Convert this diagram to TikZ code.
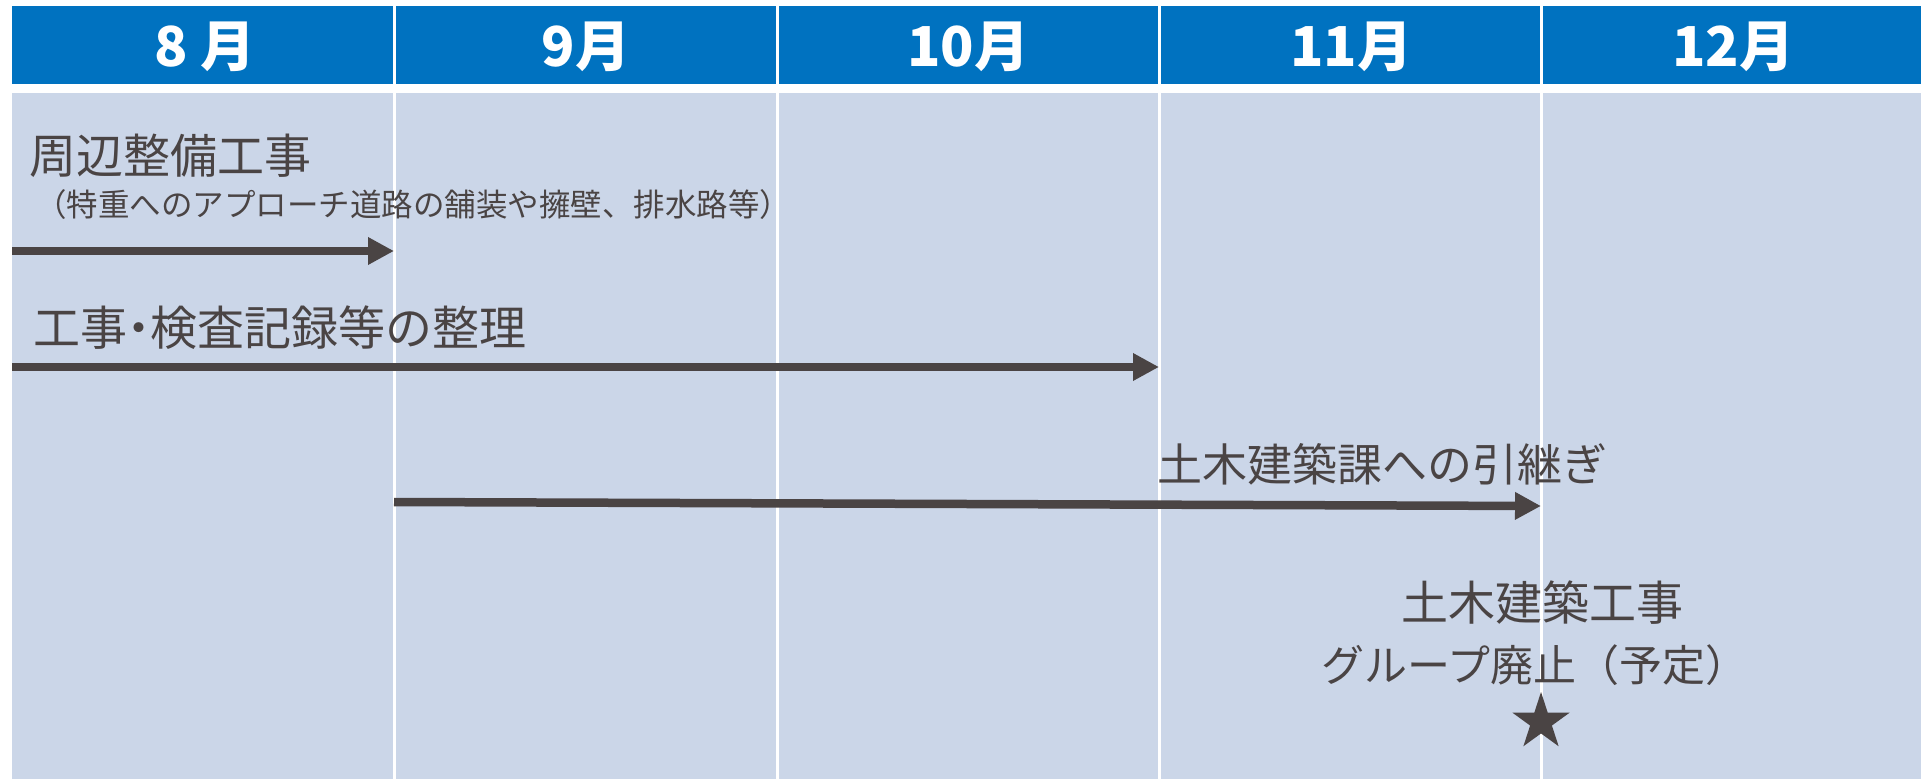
\documentclass[tikz,border=0pt]{standalone}
\usepackage{fontspec}
\newfontfamily\jp{Noto Sans CJK JP}
\usetikzlibrary{arrows.meta,shapes.geometric}
\definecolor{hdr}{RGB}{0,114,192}
\definecolor{cell}{RGB}{203,214,232}
\definecolor{inkc}{RGB}{74,68,68}
\begin{document}
\begin{tikzpicture}[x=1pt,y=-1pt,
  month/.style={font=\jp\bfseries\fontsize{55}{60}\selectfont, text=white, inner sep=0},
  lbl/.style={font=\jp\fontsize{#1}{#1}\selectfont, text=inkc, inner sep=0, anchor=west},
  flow/.style={draw=inkc, line width=8.5pt, -{Triangle[length=26pt,width=26pt]}},
  sep/.style={draw=white, line width=3pt}]
% background and table
\fill[white] (0,0) rectangle (1921,779);
\fill[hdr] (12,6) rectangle (1921,84);
\fill[cell] (12,93) rectangle (1921,779);
\foreach \x in {394,777,1159,1541} \draw[sep] (\x,6) -- (\x,779);
% month headers
\node[month] (m8)  at (205,47)  {8 月};
\node[month] (m9)  at (586,47)  {9月};
\node[month] (m10) at (968,47)  {10月};
\node[month] (m11) at (1351,47) {11月};
\node[month] (m12) at (1733,47) {12月};
% task 1
\node[lbl=47] (t1) at (29,156) {周辺整備工事};
\node[lbl=31.5] (t1s) at (35,205) {（特重へのアプローチ道路の舗装や擁壁、排水路等）};
\coordinate (a1s) at (12,251);
\coordinate (a1e) at (394,251);
\draw[flow] (a1s) -- (a1e);
% task 2
\node[lbl=47] (t2) at (33,328) {工事{\kern-0.25em}・{\kern-0.25em}検査記録等の整理};
\coordinate (a2s) at (12,367);
\coordinate (a2e) at (1159,367);
\draw[flow] (a2s) -- (a2e);
% task 3
\node[lbl=45] (t3) at (1157,464) {土木建築課への引継ぎ};
\coordinate (a3s) at (394,502);
\coordinate (a3e) at (1541,506);
\draw[flow] (a3s) -- (a3e);
% milestone
\node[font=\jp\fontsize{47}{47}\selectfont, text=inkc, inner sep=0] (g1) at (1542,603) {土木建築工事};
\node[font=\jp\fontsize{43}{43}\selectfont, text=inkc, inner sep=0] (g2) at (1535,665) {グループ廃止（予定）};
\node[star, star points=5, star point ratio=2.618, fill=inkc, minimum size=60pt, inner sep=0] (st) at (1541,722) {};
\end{tikzpicture}
\end{document}
